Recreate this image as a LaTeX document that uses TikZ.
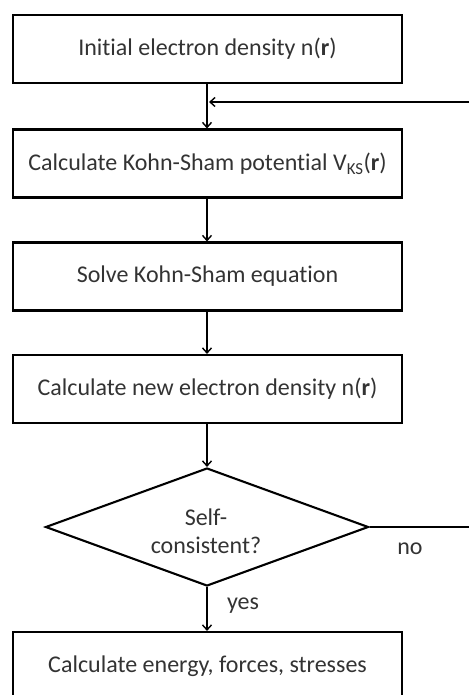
\documentclass[tikz,border=0pt]{standalone}
\usepackage{fontspec}
\setmainfont[Ligatures=NoCommon]{Carlito}
\usetikzlibrary{shapes.geometric,arrows.meta}
\definecolor{txt}{HTML}{333333}
\begin{document}
\begin{tikzpicture}[x=1pt,y=-1pt,
  stepbox/.style={draw=black, line width=2.1pt, minimum width=389pt, minimum height=68pt,
    inner sep=0pt, font=\fontsize{24}{28}\selectfont, text=txt},
  decision/.style={draw=black, line width=2.1pt, diamond, minimum width=323pt, minimum height=118pt,
    inner sep=0pt},
  flow/.style={line width=1.4pt, -{Straight Barb[length=5pt,width=9pt,line width=1.4pt]}},
  plain/.style={line width=1.4pt},
  lbl/.style={font=\fontsize{24}{28}\selectfont, text=txt, inner sep=0pt}]
  \useasboundingbox (0,0) rectangle (469,695);
  \clip (0,0) rectangle (469,695);

  % process steps
  \node[stepbox] (init) at (207.5,49) {Initial electron density n(\textbf{r})};
  \node[stepbox] (vks)  at (207.5,163.5) {Calculate Kohn-Sham potential V\textsubscript{KS}(\textbf{r})};
  \node[stepbox] (solve) at (207.5,276.5) {Solve Kohn-Sham equation};
  \node[stepbox] (dens) at (207.5,389) {Calculate new electron density n(\textbf{r})};
  \node[decision] (scf) at (207,527) {};
  \node[lbl, align=center] (scftext) at (206,531) {Self-\\consistent?};
  \node[stepbox] (final) at (207.5,666) {Calculate energy, forces, stresses};

  % loop ends (leave the picture at its right edge)
  \coordinate (back) at (469,102);
  \coordinate (join) at (207,102);
  \coordinate (out) at (469,527);

  % connectors
  \draw[plain] (init.south -| join) -- (join);
  \draw[flow] (join) -- (vks.north -| join);
  \draw[flow] (back) -- ([xshift=2pt]join);
  \draw[flow] (vks.south -| join) -- (solve.north -| join);
  \draw[flow] (solve.south -| join) -- (dens.north -| join);
  \draw[flow] (dens.south -| join) -- (scf.north);
  \draw[flow] (scf.south) -- (final.north -| scf.south);
  \draw[plain] (scf.east) -- (out);

  % branch labels
  \node[lbl] (no) at (410,549) {no};
  \node[lbl] (yes) at (243,606) {yes};
\end{tikzpicture}
\end{document}
